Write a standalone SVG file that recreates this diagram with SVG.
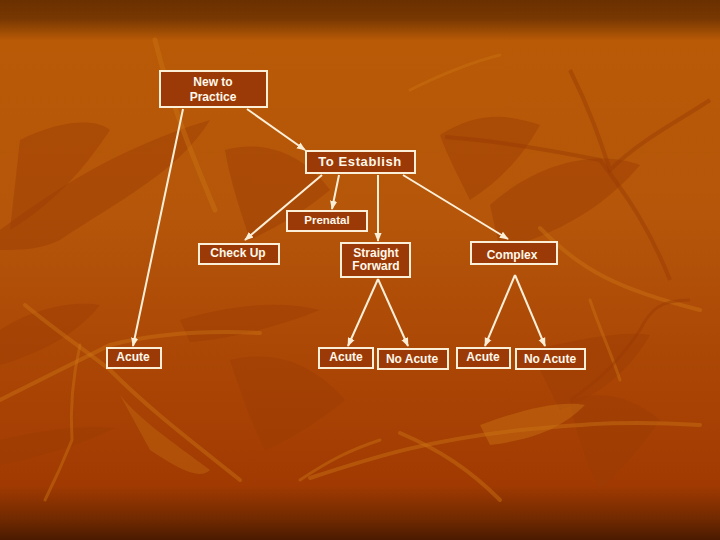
<svg xmlns="http://www.w3.org/2000/svg" width="720" height="540" viewBox="0 0 720 540">
<defs>
<linearGradient id="bg" x1="0" y1="0" x2="0" y2="1">
<stop offset="0" stop-color="#6a3000"/>
<stop offset="0.035" stop-color="#783802"/>
<stop offset="0.075" stop-color="#b85a06"/>
<stop offset="0.4" stop-color="#b5560a"/>
<stop offset="0.75" stop-color="#a84204"/>
<stop offset="0.9" stop-color="#a03a02"/>
<stop offset="0.96" stop-color="#722a00"/>
<stop offset="1" stop-color="#4a1a00"/>
</linearGradient>
<marker id="ah" viewBox="0 0 10 10" refX="9" refY="5" markerWidth="9" markerHeight="9" markerUnits="userSpaceOnUse" orient="auto">
<path d="M0,1 L10,5 L0,9 Z" fill="#fbefd8"/>
</marker>
<style>
.box{fill:#9b3a06;stroke:#fbefd8;stroke-width:2}
.t{fill:#fff8ea;font-family:"Liberation Sans",Arial,sans-serif;font-size:12px;font-weight:bold;text-anchor:middle}
.c{stroke:#fbefd8;stroke-width:2;fill:none;marker-end:url(#ah)}
.dk{fill:#9c3c04;opacity:0.45}
.lt{fill:none;stroke:#cc7414;stroke-linecap:round;opacity:0.45}
</style>
</defs>
<rect width="720" height="540" fill="url(#bg)"/>
<g id="background">
<path class="dk" d="M0,230 C40,200 110,150 210,120 C180,170 120,200 60,240 C40,250 20,250 0,250 Z"/>
<path class="dk" d="M0,440 C40,430 80,425 115,428 C90,440 60,452 0,465 Z"/>
<path class="dk" d="M20,140 C60,120 95,118 110,130 C90,160 60,200 10,230 Z"/>
<path class="dk" d="M225,150 C260,140 300,150 330,190 C300,215 270,230 250,240 C240,210 230,180 225,150 Z"/>
<path class="dk" d="M440,135 C480,110 510,115 540,125 C520,160 500,180 470,200 C455,170 445,150 440,135 Z"/>
<path class="dk" d="M490,205 C540,160 600,150 640,165 C610,200 570,230 500,250 Z"/>
<path class="dk" d="M180,320 C230,305 280,300 320,310 C270,330 220,340 190,342 Z"/>
<path class="dk" d="M530,350 C580,340 620,330 650,335 C630,370 600,395 560,410 Z"/>
<path class="dk" d="M570,400 C600,390 630,395 660,420 C640,450 620,470 600,490 C585,460 575,430 570,400 Z"/>
<path class="dk" d="M230,360 C270,350 310,360 345,400 C320,420 290,440 265,450 C250,420 240,390 230,360 Z"/>
<path class="dk" d="M0,330 C30,310 70,300 100,305 C80,330 50,350 0,365 Z"/>
<path d="M480,425 C520,410 560,400 585,405 C560,430 530,440 490,445 Z" fill="#c66e12" opacity="0.5"/>
<path d="M120,395 C140,420 170,440 210,470 C200,480 180,470 150,450 Z" fill="#c66e12" opacity="0.4"/>
<path class="lt" stroke-width="5" d="M155,40 C170,100 190,150 215,210"/>
<path class="lt" stroke-width="4" d="M25,305 C55,330 85,350 110,370 C150,410 190,440 240,480"/>
<path class="lt" stroke-width="4" d="M0,400 C40,380 80,360 110,345 C150,335 200,330 260,333"/>
<path class="lt" stroke-width="3" d="M80,345 C72,380 70,410 72,440 C60,470 50,490 45,500"/>
<path class="lt" stroke-width="4" d="M400,433 C440,450 470,470 500,500"/>
<path class="lt" stroke-width="4" d="M310,478 C380,455 430,440 520,430 C580,425 620,420 700,425"/>
<path class="lt" stroke-width="4" d="M540,228 C580,270 620,290 700,310"/>
<path class="lt" stroke-width="3" d="M590,300 C600,330 610,350 620,380"/>
<path class="lt" stroke-width="3" d="M410,90 C450,70 480,60 500,55"/>
<path class="lt" stroke-width="3" d="M300,480 C330,460 350,450 380,440"/>
<path fill="none" stroke="#9a3a04" stroke-width="4" opacity="0.45" d="M445,137 C490,140 550,150 600,160 C630,200 650,230 670,280"/>
<path fill="none" stroke="#9a3a04" stroke-width="4" opacity="0.45" d="M570,70 C590,110 600,140 610,170 C640,140 680,120 710,100"/>
<path fill="none" stroke="#9a3a04" stroke-width="3" opacity="0.45" d="M570,400 C600,380 620,360 640,330 C650,310 660,300 690,300"/>
</g>
<g id="connectors">
<line class="c" x1="247" y1="109" x2="305" y2="150"/>
<line class="c" x1="183" y1="109" x2="133" y2="346"/>
<line class="c" x1="322" y1="175" x2="245" y2="240"/>
<line class="c" x1="339" y1="175" x2="332" y2="209"/>
<line class="c" x1="378" y1="175" x2="378" y2="241"/>
<line class="c" x1="403" y1="175" x2="508" y2="239"/>
<line class="c" x1="378" y1="279" x2="348" y2="346"/>
<line class="c" x1="378" y1="279" x2="408" y2="346"/>
<line class="c" x1="515" y1="275" x2="485" y2="346"/>
<line class="c" x1="515" y1="275" x2="545" y2="346"/>
</g>
<g id="new-to-practice">
<rect class="box" x="160" y="71" width="107" height="36"/>
<text class="t" x="213" y="86">New to</text>
<text class="t" x="213" y="101">Practice</text>
</g>
<g id="to-establish">
<rect class="box" x="306" y="151" width="109" height="22"/>
<text class="t" x="360" y="166" style="font-size:13px;letter-spacing:0.6px">To Establish</text>
</g>
<g id="prenatal">
<rect class="box" x="287" y="211" width="80" height="20"/>
<text class="t" x="327" y="224" style="font-size:11.5px">Prenatal</text>
</g>
<g id="check-up">
<rect class="box" x="199" y="244" width="80" height="20"/>
<text class="t" x="238" y="257">Check Up</text>
</g>
<g id="straight-forward">
<rect class="box" x="341" y="243" width="69" height="34"/>
<text class="t" x="376" y="257">Straight</text>
<text class="t" x="376" y="270">Forward</text>
</g>
<g id="complex">
<rect class="box" x="471" y="242" width="86" height="22"/>
<text class="t" x="512" y="259">Complex</text>
</g>
<g id="acute-1">
<rect class="box" x="107" y="348" width="54" height="20"/>
<text class="t" x="133" y="361">Acute</text>
</g>
<g id="acute-2">
<rect class="box" x="319" y="348" width="54" height="20"/>
<text class="t" x="346" y="361">Acute</text>
</g>
<g id="no-acute-2">
<rect class="box" x="378" y="349" width="70" height="20"/>
<text class="t" x="412" y="363">No Acute</text>
</g>
<g id="acute-3">
<rect class="box" x="457" y="348" width="53" height="20"/>
<text class="t" x="483" y="361">Acute</text>
</g>
<g id="no-acute-3">
<rect class="box" x="516" y="349" width="69" height="20"/>
<text class="t" x="550" y="363">No Acute</text>
</g>
</svg>
